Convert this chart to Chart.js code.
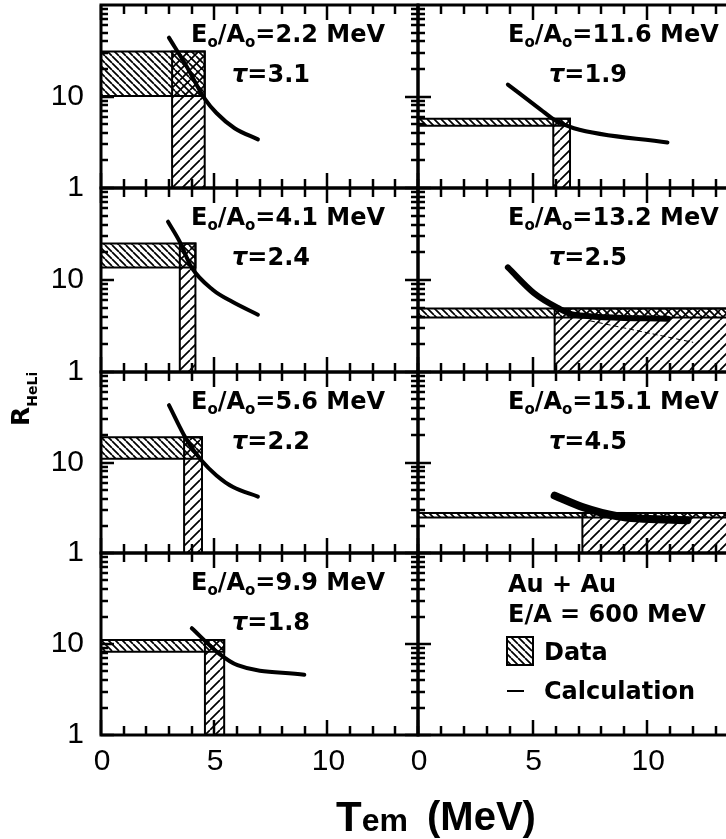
<!DOCTYPE html>
<html>
<head>
<meta charset="utf-8">
<script src="https://cdn.jsdelivr.net/npm/chart.js@4.4.1/dist/chart.umd.min.js"></script>
<style>
html, body { margin: 0; padding: 0; background: #fff; overflow: hidden; width: 726px; height: 839px; }
canvas { position: absolute; left: 0; top: 0; }
</style>
</head>
<body>
<script>
// panel labels (left column top->bottom, then right column)
var panelE = ['2.2', '4.1', '5.6', '9.9', '11.6', '13.2', '15.1'];
var panelTau = ['3.1', '2.4', '2.2', '1.8', '1.9', '2.5', '4.5'];

// data boxes: R_HeLi range and T_em range
var dataRLow = [10.1, 13.7, 11.0, 8.2, 4.8, 3.9, 2.47];
var dataRHigh = [31, 25, 19, 11.1, 5.7, 4.9, 2.77];
var dataTLow = [3.14, 3.48, 3.67, 4.59, 5.9, 5.96, 7.17];
var dataTHigh = [4.58, 4.17, 4.46, 5.44, 6.63, 14, 14];

// calculation curves
var calcT = [
    [3.0, 3.77, 4.6, 5.1, 5.9, 6.93],
    [2.96, 3.48, 4.0, 4.95, 5.8, 6.93],
    [3.0, 3.77, 4.44, 5.1, 5.83, 6.93],
    [4.01, 5.2, 6.03, 8.98],
    [3.92, 5.35, 5.93, 6.8, 10.88],
    [3.92, 5.06, 6.08, 6.8, 10.9],
    [5.96, 7.2, 8.7, 11.75]
];
var calcR = [
    [44, 21.5, 9.3, 6.6, 4.5, 3.4],
    [43, 26, 13.7, 7.8, 5.8, 4.2],
    [43, 18, 10.5, 7.2, 5.35, 4.2],
    [14.9, 7.9, 5.85, 4.6],
    [13.5, 7.2, 5.6, 4.5, 3.15],
    [13.7, 7.2, 5.0, 4.2, 3.8],
    [4.3, 3.2, 2.55, 2.3]
];
var calcWidth = [4, 4, 4, 4, 4, 6, 8];

// thin dashed line in the 13.2 MeV panel
var thinT = [7.5, 12];
var thinR = [3.6, 2.1];

var xTickLabels = [0, 5, 10];
var yTickLabels = [1, 10];

var W = 760, H = 839;
var colLeft = [101, 418], colRight = [418, 739];
var rowTop = [5, 188, 372, 553], rowBottom = [188, 372, 553, 735];

function hatch(dir, s, w) {
    var c = document.createElement('canvas');
    c.width = s; c.height = s;
    var g = c.getContext('2d');
    g.strokeStyle = '#000';
    g.lineWidth = w;
    g.beginPath();
    for (var k = -1; k <= 1; k++) {
        if (dir > 0) { g.moveTo(k * s, s); g.lineTo(k * s + s, 0); }
        else { g.moveTo(k * s, 0); g.lineTo(k * s + s, s); }
    }
    g.stroke();
    return g.createPattern(c, 'repeat');
}
var backHatch = hatch(-1, 7, 1.7);
var slashHatch = hatch(1, 10, 1.7);

function pts(xs, ys) {
    return xs.map(function (x, k) { return {x: x, y: ys[k]}; });
}

function drawParts(ctx, x, y, parts) {
    parts.forEach(function (p) {
        ctx.font = p[1];
        ctx.fillText(p[0], x, y + (p[2] || 0));
        x += ctx.measureText(p[0]).width;
    });
}

function seg(ctx, x1, y1, x2, y2) {
    ctx.beginPath();
    ctx.moveTo(x1, y1);
    ctx.lineTo(x2, y2);
    ctx.stroke();
}

var bigF = 'bold 24px "DejaVu Sans"';
var subF = 'bold 15px "DejaVu Sans"';

function drawFrame(chart, i, col, row) {
    var ctx = chart.ctx, a = chart.chartArea, xs = chart.scales.x, ys = chart.scales.y;
    ctx.save();
    ctx.strokeStyle = '#000';
    ctx.fillStyle = '#000';
    ctx.lineWidth = 2.5;
    // inward ticks on all four sides
    for (var v = 0; v <= 14; v++) {
        var px = Math.round(xs.getPixelForValue(v));
        var len = v % 5 === 0 ? 15 : 9;
        seg(ctx, px, a.bottom, px, a.bottom - len);
        seg(ctx, px, a.top, px, a.top + len);
    }
    [1, 10].forEach(function (dec) {
        for (var m = 1; m <= 9; m++) {
            var py = Math.round(ys.getPixelForValue(dec * m));
            var l = m === 1 ? 13 : 7;
            seg(ctx, a.left, py, a.left + l, py);
            seg(ctx, a.right, py, a.right - l, py);
        }
    });
    ctx.lineWidth = 3;
    ctx.strokeRect(a.left, a.top, a.right - a.left, a.bottom - a.top);

    ctx.font = '30px "Liberation Sans"';
    ctx.textBaseline = 'middle';
    if (col === 0) {
        ctx.textAlign = 'right';
        yTickLabels.forEach(function (t) {
            ctx.fillText(String(t), a.left - 17, ys.getPixelForValue(t));
        });
    }
    if (row === 3) {
        ctx.textAlign = 'center';
        xTickLabels.forEach(function (t) {
            ctx.fillText(String(t), xs.getPixelForValue(t) + 1, 762);
        });
    }

    ctx.textAlign = 'left';
    ctx.textBaseline = 'alphabetic';
    if (i < 7) {
        drawParts(ctx, a.left + 90, a.top + 37, [
            ['E', bigF], ['o', subF, 5], ['/A', bigF], ['o', subF, 5], ['=' + panelE[i] + ' MeV', bigF]
        ]);
        drawParts(ctx, a.left + 131, a.top + 77, [
            ['\u03c4', 'italic bold 24px "DejaVu Sans"'], ['=' + panelTau[i], bigF]
        ]);
    } else {
        // legend panel
        ctx.font = bigF;
        ctx.fillText('Au + Au', 508, 592);
        ctx.fillText('E/A = 600 MeV', 508, 622);
        ctx.fillText('Data', 544, 660);
        ctx.fillText('Calculation', 544, 699);
        ctx.fillStyle = backHatch;
        ctx.fillRect(507, 637, 26, 28);
        ctx.lineWidth = 2;
        ctx.strokeRect(507, 637, 26, 28);
        seg(ctx, 507, 691, 524, 691);
        ctx.fillStyle = '#000';

        // axis titles
        drawParts(ctx, 336, 831, [
            ['T', 'bold 42px "Liberation Sans"'], ['em', 'bold 32px "Liberation Sans"']
        ]);
        ctx.font = 'bold 40px "Liberation Sans"';
        ctx.fillText('(MeV)', 427, 830);

        ctx.save();
        ctx.translate(29, 426);
        ctx.rotate(-Math.PI / 2);
        drawParts(ctx, 0, 0, [['R', 'bold 25px "DejaVu Sans"'], ['HeLi', 'bold 14px "DejaVu Sans"', 8]]);
        ctx.restore();
    }
    ctx.restore();
}

function makePanel(i) {
    var col = Math.floor(i / 4), row = i % 4;
    var canvas = document.createElement('canvas');
    canvas.width = W; canvas.height = H;
    canvas.style.width = W + 'px'; canvas.style.height = H + 'px';
    document.body.appendChild(canvas);

    var datasets = [];
    if (i < 7) {
        var rl = dataRLow[i], rh = dataRHigh[i], tl = dataTLow[i], th = dataTHigh[i];
        datasets.push({
            data: pts([0, th], [rh, rh]), fill: {value: rl},
            backgroundColor: backHatch, borderWidth: 0
        });
        datasets.push({
            data: pts([tl, th], [rh, rh]), fill: {value: 1},
            backgroundColor: slashHatch, borderWidth: 0
        });
        datasets.push({
            data: pts([0, th, th, 0, 0], [rl, rl, rh, rh, rl]), fill: false,
            borderColor: '#000', borderWidth: 2
        });
        datasets.push({
            data: pts([tl, tl, th, th], [1, rh, rh, 1]), fill: false,
            borderColor: '#000', borderWidth: 2
        });
        if (i === 5) {
            datasets.push({
                data: pts(thinT, thinR), fill: false,
                borderColor: '#000', borderWidth: 1, borderDash: [5, 3]
            });
        }
        datasets.push({
            data: pts(calcT[i], calcR[i]), fill: false,
            borderColor: '#000', borderWidth: calcWidth[i],
            cubicInterpolationMode: 'monotone',
            borderCapStyle: 'round', borderJoinStyle: 'round'
        });
    }

    new Chart(canvas, {
        type: 'line',
        data: {datasets: datasets},
        options: {
            responsive: false,
            animation: false,
            devicePixelRatio: 1,
            layout: {padding: {left: colLeft[col], right: W - colRight[col], top: rowTop[row], bottom: H - rowBottom[row]}},
            scales: {
                x: {type: 'linear', min: 0, max: 14, display: false},
                y: {type: 'logarithmic', min: 1, max: 100, display: false}
            },
            elements: {point: {radius: 0}},
            plugins: {legend: {display: false}, tooltip: {enabled: false}}
        },
        plugins: [{id: 'deco', afterDraw: function (chart) { drawFrame(chart, i, col, row); }}]
    });
}

for (var p = 0; p < 8; p++) makePanel(p);
</script>
</body>
</html>
